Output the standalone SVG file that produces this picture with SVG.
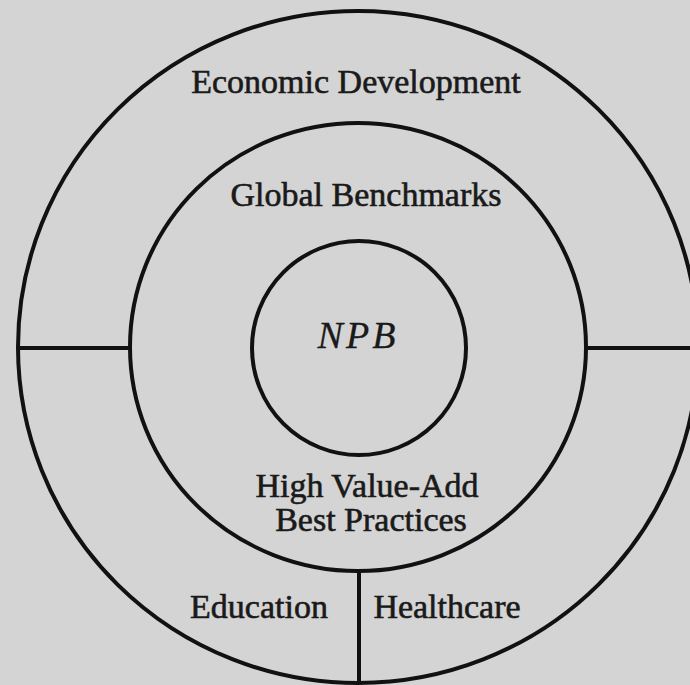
<svg xmlns="http://www.w3.org/2000/svg" width="690" height="685" viewBox="0 0 690 685">
<style>
.ring{fill:none;stroke:#111;stroke-width:4}
.ln{stroke:#111;stroke-width:4;fill:none}
.t{font-family:"Liberation Serif","Times New Roman",serif;font-size:34px;fill:#1a1a1a;stroke:#1a1a1a;stroke-width:0.6;text-anchor:middle}
</style>
<rect x="0" y="0" width="690" height="685" fill="#d4d4d4"/>
<g id="outer-ring">
<ellipse class="ring" cx="358" cy="347" rx="340" ry="336"/>
<text class="t" x="356" y="93">Economic Development</text>
<text class="t" x="259" y="618">Education</text>
<text class="t" x="447" y="618">Healthcare</text>
</g>
<g id="middle-ring">
<ellipse class="ring" cx="358" cy="347" rx="228" ry="224"/>
<text class="t" x="366" y="206">Global Benchmarks</text>
<text class="t" x="367" y="497">High Value-Add</text>
<text class="t" x="371" y="531">Best Practices</text>
</g>
<g id="npb">
<circle class="ring" cx="359" cy="348" r="107"/>
<text class="t" x="358" y="348" style="font-style:italic;font-size:38px;letter-spacing:3px;stroke-width:0.3">NPB</text>
</g>
<g id="connectors">
<line class="ln" x1="18" y1="348" x2="130" y2="348"/>
<line class="ln" x1="586" y1="348" x2="690" y2="348"/>
<line class="ln" x1="359" y1="571" x2="359" y2="683"/>
</g>
</svg>
